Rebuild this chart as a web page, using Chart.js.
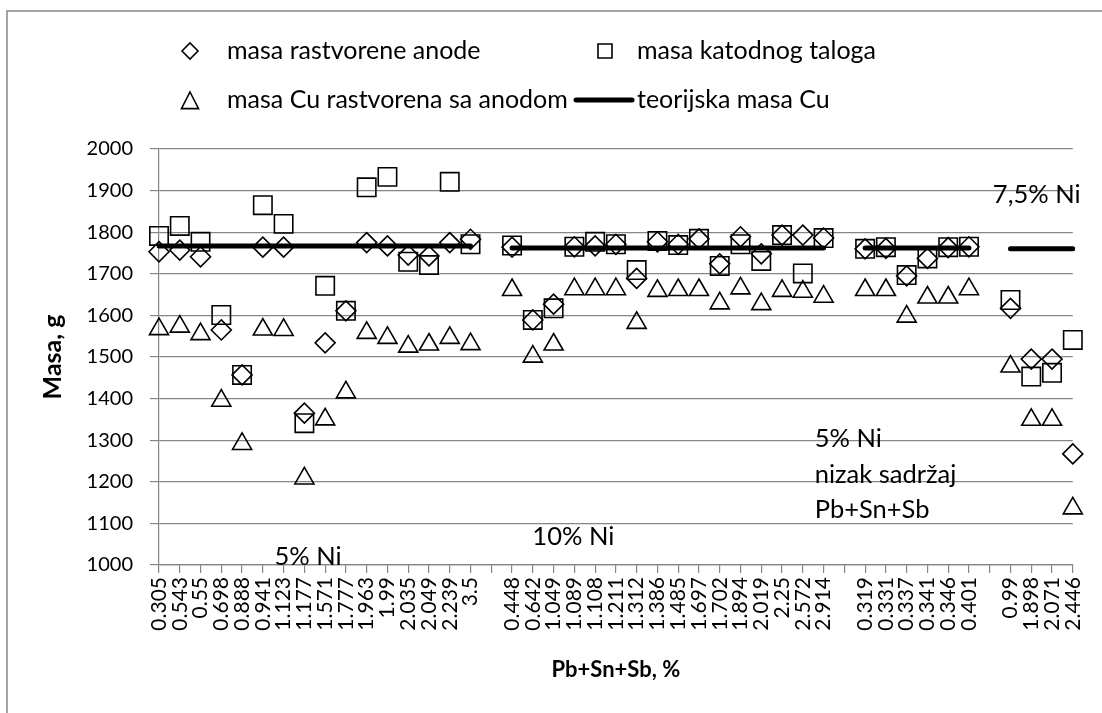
<!DOCTYPE html>
<html>
<head>
<meta charset="utf-8">
<script src="https://cdn.jsdelivr.net/npm/chart.js@4.4.1/dist/chart.umd.min.js"></script>
<style>
  html, body { margin: 0; padding: 0; background: #fff; }
  canvas { display: block; }
</style>
</head>
<body>
<canvas id="myChart" width="1102" height="713"></canvas>
<script>
// x categories (empty strings are the gaps between the groups)
const categories = [
    '0.305', '0.543', '0.55', '0.698', '0.888', '0.941', '1.123', '1.177',
    '1.571', '1.777', '1.963', '1.99', '2.035', '2.049', '2.239', '3.5', '',
    '0.448', '0.642', '1.049', '1.089', '1.108', '1.211', '1.312', '1.386',
    '1.485', '1.697', '1.702', '1.894', '2.019', '2.25', '2.572', '2.914', '',
    '0.319', '0.331', '0.337', '0.341', '0.346', '0.401', '',
    '0.99', '1.898', '2.071', '2.446'
];

const masaAnode = [
    1753, 1757, 1741, 1565, 1457, 1764, 1764, 1365, 1534, 1611, 1775, 1767, 1745, 1743, 1775, 1783, null,
    1764, 1589, 1627, 1765, 1767, 1771, 1689, 1777, 1771, 1784, 1724, 1789, 1748, 1793, 1793, 1786, null,
    1760, 1761, 1695, 1737, 1763, 1765, null,
    1617, 1495, 1495, 1267
];

const masaKatode = [
    1791, 1815, 1777, 1601, 1457, 1865, 1820, 1341, 1671, 1611, 1908, 1933, 1729, 1721, 1921, 1771, null,
    1768, 1589, 1617, 1765, 1777, 1771, 1709, 1779, 1769, 1784, 1719, 1771, 1731, 1793, 1701, 1786, null,
    1760, 1764, 1697, 1737, 1764, 1765, null,
    1637, 1453, 1462, 1541
];

const masaCu = [
    1567, 1573, 1555, 1395, 1291, 1566, 1565, 1208, 1350, 1415, 1558, 1546, 1525, 1530, 1546, 1531, null,
    1661, 1501, 1530, 1663, 1663, 1663, 1582, 1659, 1661, 1661, 1629, 1665, 1627, 1659, 1657, 1645, null,
    1661, 1661, 1597, 1643, 1643, 1663, null,
    1477, 1349, 1349, 1136
];

const teorijskaCu = [
    1767, 1767, 1767, 1767, 1767, 1767, 1767, 1767, 1767, 1767, 1767, 1767, 1767, 1767, 1767, 1767, null,
    1762, 1762, 1762, 1762, 1762, 1762, 1762, 1762, 1762, 1762, 1762, 1762, 1762, 1762, 1762, 1762, null,
    1762, 1762, 1762, 1762, 1762, 1762, null,
    1760, 1760, 1760, 1760
];

const seriesNames = ['masa rastvorene anode', 'masa katodnog taloga', 'masa Cu rastvorena sa anodom', 'teorijska masa Cu'];

// text notes inside the plot: [text, category position, value, align]
const notes = [
    ['5% Ni', 7.18, 1019, 'center'],
    ['10% Ni', 19.95, 1067, 'center'],
    ['5% Ni', 31.57, 1303, 'left'],
    ['nizak sadržaj', 31.57, 1216, 'left'],
    ['Pb+Sn+Sb', 31.57, 1132, 'left'],
    ['7,5% Ni', 40.15, 1889, 'left']
];

const FONT = 'Lato';
const GRID = '#868686';

function drawMarker(ctx, style, x, y, r) {
    ctx.beginPath();
    if (style === 'rectRot') {
        ctx.moveTo(x - r, y); ctx.lineTo(x, y - r); ctx.lineTo(x + r, y); ctx.lineTo(x, y + r);
        ctx.closePath();
    } else if (style === 'rect') {
        ctx.rect(x - r, y - r, 2 * r, 2 * r);
    } else if (style === 'triangle') {
        ctx.moveTo(x, y - r); ctx.lineTo(x + r * 0.95, y + r * 0.85); ctx.lineTo(x - r * 0.95, y + r * 0.85);
        ctx.closePath();
    }
    ctx.stroke();
}

const extrasPlugin = {
    id: 'extras',
    beforeDraw(chart) {
        const ctx = chart.ctx;
        ctx.save();
        ctx.fillStyle = '#fff';
        ctx.fillRect(0, 0, chart.width, chart.height);
        ctx.strokeStyle = GRID;
        ctx.lineWidth = 1.5;
        ctx.strokeRect(7, 11, chart.width + 20, chart.height + 20);
        ctx.restore();
    },
    afterDraw(chart) {
        const ctx = chart.ctx;
        ctx.save();
        // legend
        ctx.font = '25px ' + FONT;
        ctx.fillStyle = '#000';
        ctx.strokeStyle = '#000';
        ctx.textBaseline = 'middle';
        ctx.textAlign = 'left';
        ctx.lineWidth = 1.6;
        drawMarker(ctx, 'rectRot', 190, 51, 8);
        ctx.fillText(seriesNames[0], 227, 51);
        drawMarker(ctx, 'rect', 605, 51, 7);
        ctx.fillText(seriesNames[1], 637, 51);
        drawMarker(ctx, 'triangle', 190, 101, 9);
        ctx.fillText(seriesNames[2], 227, 100);
        ctx.lineWidth = 5;
        ctx.lineCap = 'round';
        ctx.beginPath();
        ctx.moveTo(576, 100); ctx.lineTo(632, 100);
        ctx.stroke();
        ctx.fillText(seriesNames[3], 637, 100);

        // notes
        const xs = chart.scales.x, ys = chart.scales.y;
        ctx.font = '25.5px ' + FONT;
        notes.forEach(n => {
            ctx.textAlign = n[3];
            ctx.fillText(n[0], xs.getPixelForValue(n[1]), ys.getPixelForValue(n[2]));
        });
        ctx.restore();
    }
};

const markerStyle = {
    showLine: false,
    borderColor: '#000',
    backgroundColor: 'rgba(0,0,0,0)',
    pointBorderWidth: 1.6,
    pointHoverRadius: 10
};

const ctx = document.getElementById('myChart').getContext('2d');
const chart = new Chart(ctx, {
    type: 'line',
    data: {
        labels: categories,
        datasets: [
            Object.assign({ label: seriesNames[0], data: masaAnode, pointStyle: 'rectRot', pointRadius: 10, order: 2 }, markerStyle),
            Object.assign({ label: seriesNames[1], data: masaKatode, pointStyle: 'rect', pointRadius: 13, order: 3 }, markerStyle),
            Object.assign({ label: seriesNames[2], data: masaCu, pointStyle: 'triangle', pointRadius: 11, order: 4 }, markerStyle),
            {
                label: seriesNames[3],
                data: teorijskaCu,
                borderColor: '#000',
                borderWidth: 5,
                borderCapStyle: 'round',
                pointRadius: 0,
                spanGaps: false,
                order: 1
            }
        ]
    },
    options: {
        responsive: false,
        animation: false,
        layout: { padding: { top: 149, right: 19, left: 0, bottom: 0 } },
        plugins: {
            legend: { display: false },
            tooltip: { enabled: false }
        },
        scales: {
            x: {
                offset: false,
                grid: { drawOnChartArea: false, drawTicks: true, tickLength: 8, color: GRID, lineWidth: 1.2 },
                border: { color: GRID, width: 1.2 },
                ticks: {
                    autoSkip: false, maxRotation: 90, minRotation: 90, padding: 4,
                    color: '#000', font: { family: FONT, size: 21 }
                },
                title: {
                    display: true, text: 'Pb+Sn+Sb, %', color: '#000',
                    font: { family: FONT, size: 22, weight: 'bold' },
                    padding: { top: 0, bottom: 30 }
                },
                afterFit: scale => { scale.height = 148; }
            },
            y: {
                min: 1000, max: 2000,
                grid: { color: GRID, lineWidth: 1.2, tickLength: 9 },
                border: { color: GRID, width: 1.2 },
                ticks: {
                    stepSize: 100, padding: 17, color: '#000',
                    font: { family: FONT, size: 20 },
                    callback: value => String(value)
                },
                title: {
                    display: true, text: 'Masa, g', color: '#000',
                    font: { family: FONT, size: 25, weight: 'bold' },
                    padding: { top: 38, bottom: 0 }
                },
                afterFit: scale => { scale.width = 159; }
            }
        }
    },
    plugins: [extrasPlugin]
});
</script>
</body>
</html>
